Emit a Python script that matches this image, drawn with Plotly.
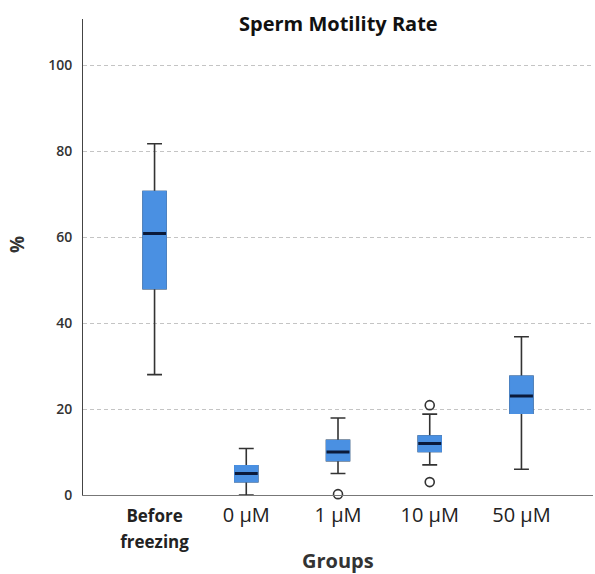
import plotly.graph_objects as go

groups = ["Before<br>freezing", "0 µM", "1 µM", "10 µM", "50 µM"]
lower_whisker = [28, 0, 5, 7, 6]
q1 = [48, 3.1, 8, 10.1, 19]
median = [60.8, 5, 10, 12, 23]
q3 = [70.6, 6.8, 12.7, 13.7, 27.6]
upper_whisker = [81.7, 10.8, 17.9, 18.8, 36.8]
outlier_group = [2, 3, 3]
outlier_value = [0.2, 20.9, 3]

pos = list(range(len(groups)))
BLUE = "#4A90E2"
DARK = "#333333"
NAVY = "#0B1A3A"
FONT = "Open Sans"

fig = go.Figure()
# whiskers (dark)
fig.add_trace(go.Box(x=pos, q1=q1, median=median, q3=q3,
                     lowerfence=lower_whisker, upperfence=upper_whisker,
                     width=0.25, whiskerwidth=0.65, boxpoints=False,
                     line=dict(color=DARK, width=1.6), fillcolor=BLUE,
                     showlegend=False, hoverinfo="skip"))
# blue box body
fig.add_trace(go.Box(x=pos, q1=q1, median=median, q3=q3,
                     lowerfence=q1, upperfence=q3,
                     width=0.25, whiskerwidth=0, boxpoints=False,
                     line=dict(color=BLUE, width=1.5), fillcolor=BLUE,
                     showlegend=False, hoverinfo="skip"))
# median line
fig.add_trace(go.Box(x=pos, q1=median, median=median, q3=median,
                     lowerfence=median, upperfence=median,
                     width=0.25, whiskerwidth=0, boxpoints=False,
                     line=dict(color=NAVY, width=3), fillcolor=NAVY,
                     showlegend=False, hoverinfo="skip"))
# outliers
fig.add_trace(go.Scatter(x=outlier_group, y=outlier_value, mode="markers",
                         marker=dict(symbol="circle-open", size=9,
                                     line=dict(color=DARK, width=1.6), color=DARK),
                         showlegend=False, hoverinfo="skip", cliponaxis=False))

ticktext = []
for g in groups:
    if "freezing" in g:
        ticktext.append('<span style="font-size:17px"><b>Before</b></span><br><span style="font-size:17px"><b>freezing</b></span>')
    else:
        ticktext.append(g)

fig.update_layout(
    width=595, height=574,
    margin=dict(l=83, r=2, t=19, b=79),
    paper_bgcolor="white", plot_bgcolor="white",
    boxmode="overlay",
    font=dict(family=FONT, color=DARK),
    xaxis=dict(range=[-0.78, 4.78], tickvals=pos, ticktext=ticktext,
               tickfont=dict(size=20, color="#222"), showgrid=False,
               zeroline=False, showline=True, linecolor="#777", linewidth=1,
               ticks="", ticklabelstandoff=2),
    yaxis=dict(range=[0, 110.7], tickvals=[0, 20, 40, 60, 80, 100],
               tickfont=dict(size=14, color="#333", weight=600),
               showgrid=True, gridcolor="#C4C4C4", griddash="4px,3px", gridwidth=1,
               zeroline=False, showline=True, linecolor="#444", linewidth=1,
               ticks="", ticklabelstandoff=7),
    annotations=[
        dict(text="<b>Sperm Motility Rate</b>", xref="paper", yref="paper",
             x=0.5, y=(495 - 24) / 476, xanchor="center", yanchor="middle",
             showarrow=False, font=dict(size=20, color="#111", family=FONT)),
        dict(text="<b>Groups</b>", xref="paper", yref="paper",
             x=0.5, y=(495 - 560) / 476, xanchor="center", yanchor="middle",
             showarrow=False, font=dict(size=20, color="#333", family=FONT)),
        dict(text="<b>%</b>", xref="paper", yref="paper",
             x=(17 - 83) / 510, y=(495 - 245) / 476, xanchor="center", yanchor="middle",
             textangle=-90, showarrow=False, font=dict(size=19, color="#333", family=FONT)),
    ],
)

fig.write_html("out.html")
